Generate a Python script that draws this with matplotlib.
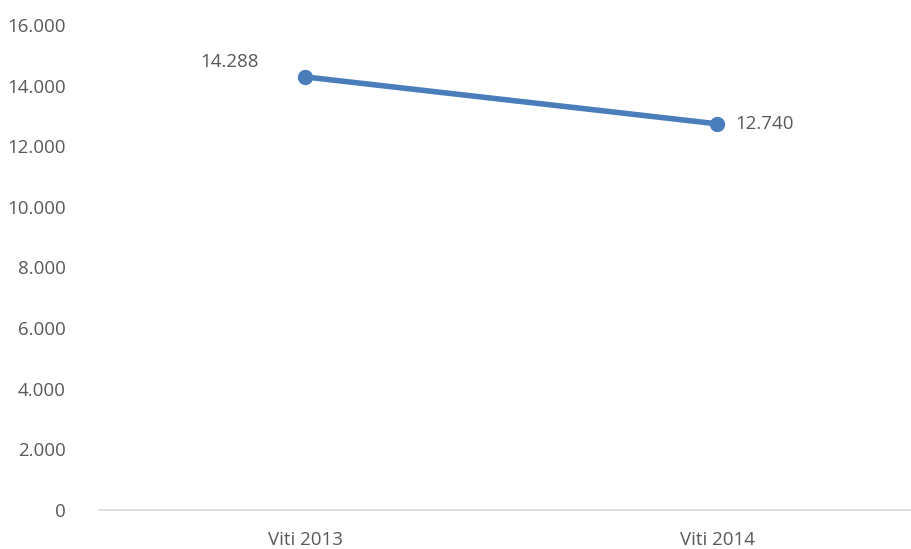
import matplotlib
matplotlib.use("Agg")
import matplotlib.pyplot as plt
from matplotlib.ticker import FuncFormatter

categories = ["Viti 2013", "Viti 2014"]
values = [14288, 12740]
yticks = [0, 2000, 4000, 6000, 8000, 10000, 12000, 14000, 16000]

plt.rcParams['font.family'] = ['Open Sans', 'DejaVu Sans']

W, H = 911, 549
fig = plt.figure(figsize=(W / 100., H / 100.), dpi=100)
ax = fig.add_axes((99. / W, 1 - 510. / H, 1 - 99. / W, (510. - 25.) / H))

x = range(len(categories))
line_col = '#4a7ebb'
grey = '#595959'

ax.plot(x, values, color=line_col, lw=4, marker='o', ms=10, solid_capstyle='round', clip_on=False, zorder=3)

fmt = lambda v: '{:,.0f}'.format(v).replace(',', '.')

ax.annotate(fmt(values[0]), (0, values[0]), xytext=(-54, 11), textcoords='offset points',
            ha='center', va='center', fontsize=13.5, color=grey)
ax.annotate(fmt(values[1]), (1, values[1]), xytext=(13, 0), textcoords='offset points',
            ha='left', va='center', fontsize=13.5, color=grey)

ax.set_xlim(-0.5, 1.5 - 12. / 412)
ax.set_ylim(0, 16000)
ax.set_xticks(list(x))
ax.set_xticklabels(categories)
ax.set_yticks(yticks)
ax.yaxis.set_major_formatter(FuncFormatter(lambda v, pos: fmt(v)))

for s in ['top', 'right', 'left']:
    ax.spines[s].set_visible(False)
ax.spines['bottom'].set_color('#d9d9d9')
ax.spines['bottom'].set_linewidth(1.2)
ax.tick_params(axis='both', length=0, labelsize=13.5, colors=grey)
ax.tick_params(axis='y', pad=24)
ax.tick_params(axis='x', pad=15)

fig.savefig('out.png', dpi=100)
